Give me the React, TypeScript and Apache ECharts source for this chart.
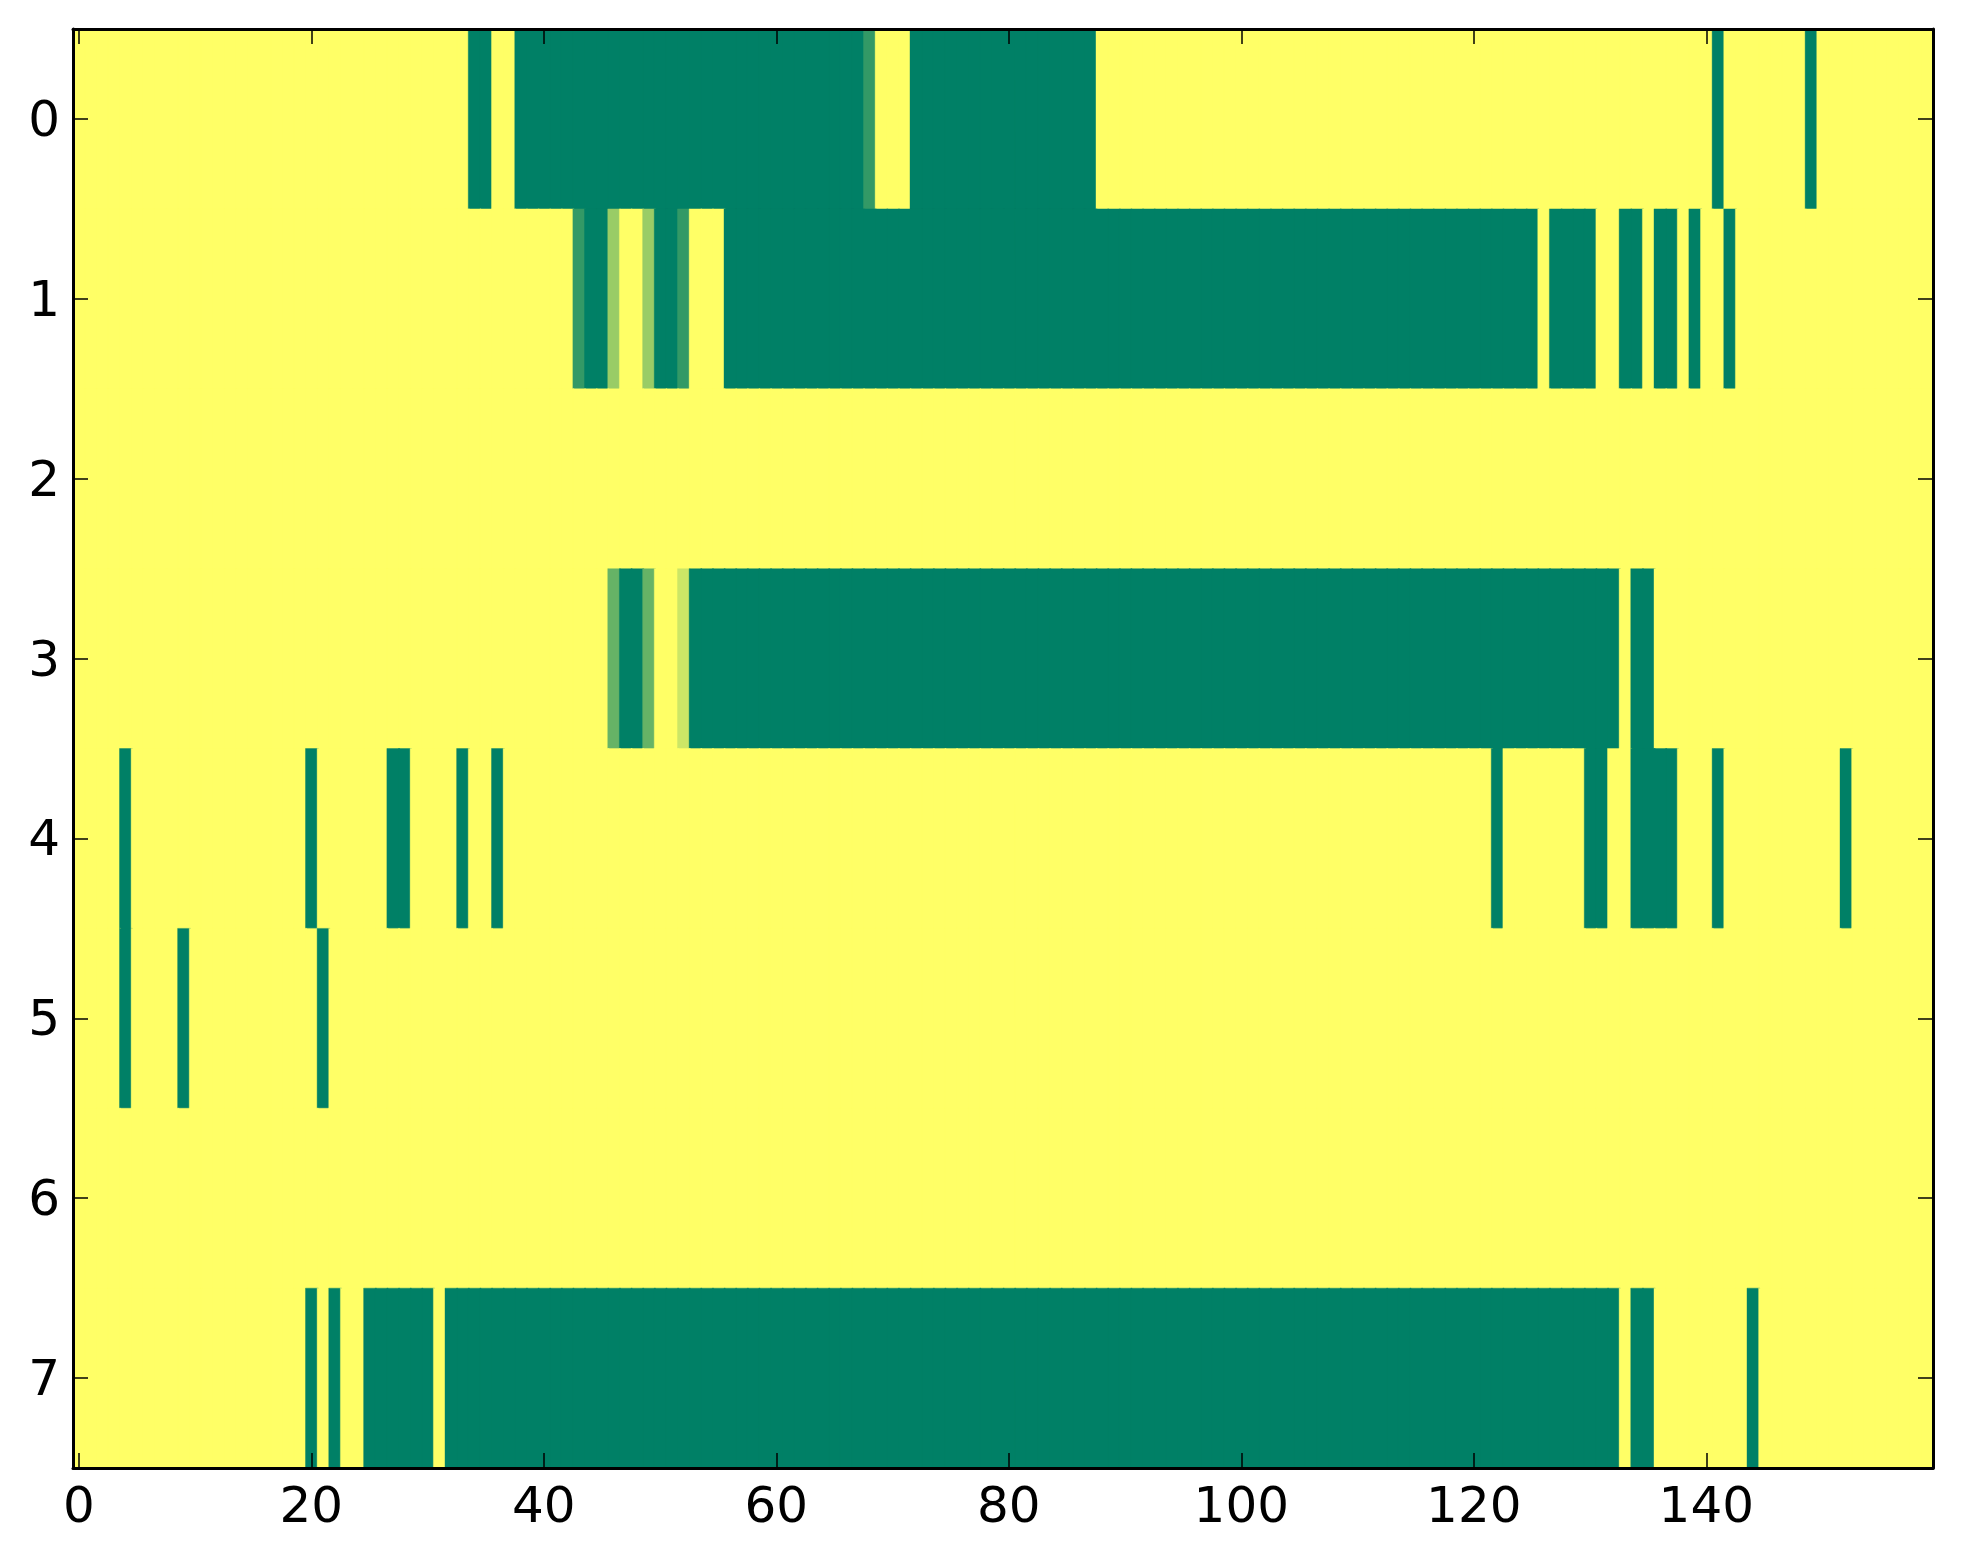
import React, { useEffect, useRef } from "react";
import * as echarts from "echarts";

// ---- data (value 1 = yellow default; runs list other values) ----
const N_COLS = 160;
const ROW_LABELS = ["0", "1", "2", "3", "4", "5", "6", "7"];
const X_TICKS = [0, 20, 40, 60, 80, 100, 120, 140];
const DEFAULT_VALUE = 1;

// each run: [firstColumn, lastColumn, value]
const row0: number[][] = [[34, 35, 0], [38, 67, 0], [68, 68, 0.2], [72, 87, 0], [141, 141, 0], [149, 149, 0]];
const row1: number[][] = [[43, 43, 0.2], [44, 45, 0], [46, 46, 0.6], [49, 49, 0.6], [50, 51, 0], [52, 52, 0.2], [56, 125, 0], [127, 130, 0], [133, 134, 0], [136, 137, 0], [139, 139, 0], [142, 142, 0]];
const row2: number[][] = [];
const row3: number[][] = [[46, 46, 0.4], [47, 48, 0], [49, 49, 0.4], [52, 52, 0.8], [53, 132, 0], [134, 135, 0]];
const row4: number[][] = [[4, 4, 0], [20, 20, 0], [27, 28, 0], [33, 33, 0], [36, 36, 0], [122, 122, 0], [130, 131, 0], [134, 137, 0], [141, 141, 0], [152, 152, 0]];
const row5: number[][] = [[4, 4, 0], [9, 9, 0], [21, 21, 0]];
const row6: number[][] = [];
const row7: number[][] = [[20, 20, 0], [22, 22, 0], [25, 30, 0], [32, 132, 0], [134, 135, 0], [144, 144, 0]];
const ROWS = [row0, row1, row2, row3, row4, row5, row6, row7];

// matplotlib "summer" colormap
function summer(v: number): string {
  const r = Math.round(255 * v);
  const g = Math.round(255 * (0.5 + 0.5 * v));
  const b = Math.round(255 * 0.4);
  return `rgb(${r},${g},${b})`;
}

function buildCells() {
  const out: number[][] = [];
  ROWS.forEach((runs, r) => {
    for (let c = 0; c < N_COLS; c++) {
      let v = DEFAULT_VALUE;
      for (const [s, e, val] of runs) {
        if (c >= s && c <= e) v = val;
      }
      out.push([c, r, v]);
    }
  });
  return out;
}

export default function App() {
  const ref = useRef<HTMLDivElement>(null);
  useEffect(() => {
    document.body.style.margin = "0";
    if (!ref.current) return;
    const chart = echarts.init(ref.current, null, { renderer: "svg" });
    const cats = Array.from({ length: N_COLS }, (_, i) => String(i));
    const showX = (i: number) => X_TICKS.includes(i);
    const font = { fontFamily: "DejaVu Sans", fontSize: 50, color: "#000" };
    const lineStyle = { color: "#000", width: 3 };
    const tick = { show: true, inside: true, length: 15, lineStyle: { color: "#000", width: 1.5 }, alignWithLabel: true };
    chart.setOption({
      animation: false,
      backgroundColor: "#fff",
      grid: { left: 73, right: 30, top: 29, bottom: 96, containLabel: false },
      xAxis: [
        {
          type: "category", data: cats, position: "bottom", z: 10,
          axisLine: { show: true, lineStyle, onZero: false },
          axisTick: { ...tick, interval: (i: number) => showX(i) },
          axisLabel: { ...font, margin: 12, interval: (i: number) => showX(i) },
          splitLine: { show: false },
        },
        {
          type: "category", data: cats, position: "top", z: 10,
          axisLine: { show: true, lineStyle, onZero: false },
          axisTick: { ...tick, interval: (i: number) => showX(i) },
          axisLabel: { show: false },
          splitLine: { show: false },
        },
      ],
      yAxis: [
        {
          type: "category", data: ROW_LABELS, inverse: true, position: "left", z: 10,
          axisLine: { show: true, lineStyle, onZero: false },
          axisTick: { ...tick, interval: 0 },
          axisLabel: { ...font, margin: 13, interval: 0 },
          splitLine: { show: false },
        },
        {
          type: "category", data: ROW_LABELS, inverse: true, position: "right", z: 10,
          axisLine: { show: true, lineStyle, onZero: false },
          axisTick: { ...tick, interval: 0 },
          axisLabel: { show: false },
          splitLine: { show: false },
        },
      ],
      series: [
        {
          type: "custom",
          xAxisIndex: 0,
          yAxisIndex: 0,
          clip: true,
          data: buildCells(),
          renderItem: (params: any, api: any) => {
            const x = api.value(0);
            const y = api.value(1);
            const v = api.value(2);
            const p = api.coord([x, y]);
            const s = api.size([1, 1]);
            const fill = summer(v);
            return {
              type: "rect",
              shape: { x: p[0] - s[0] / 2, y: p[1] - s[1] / 2, width: s[0] + 1.2, height: s[1] + 1.2 },
              style: { fill, stroke: fill, lineWidth: 0.4 },
            };
          },
        },
      ],
    });
    return () => chart.dispose();
  }, []);
  return <div ref={ref} style={{ width: 1963, height: 1564 }} />;
}
